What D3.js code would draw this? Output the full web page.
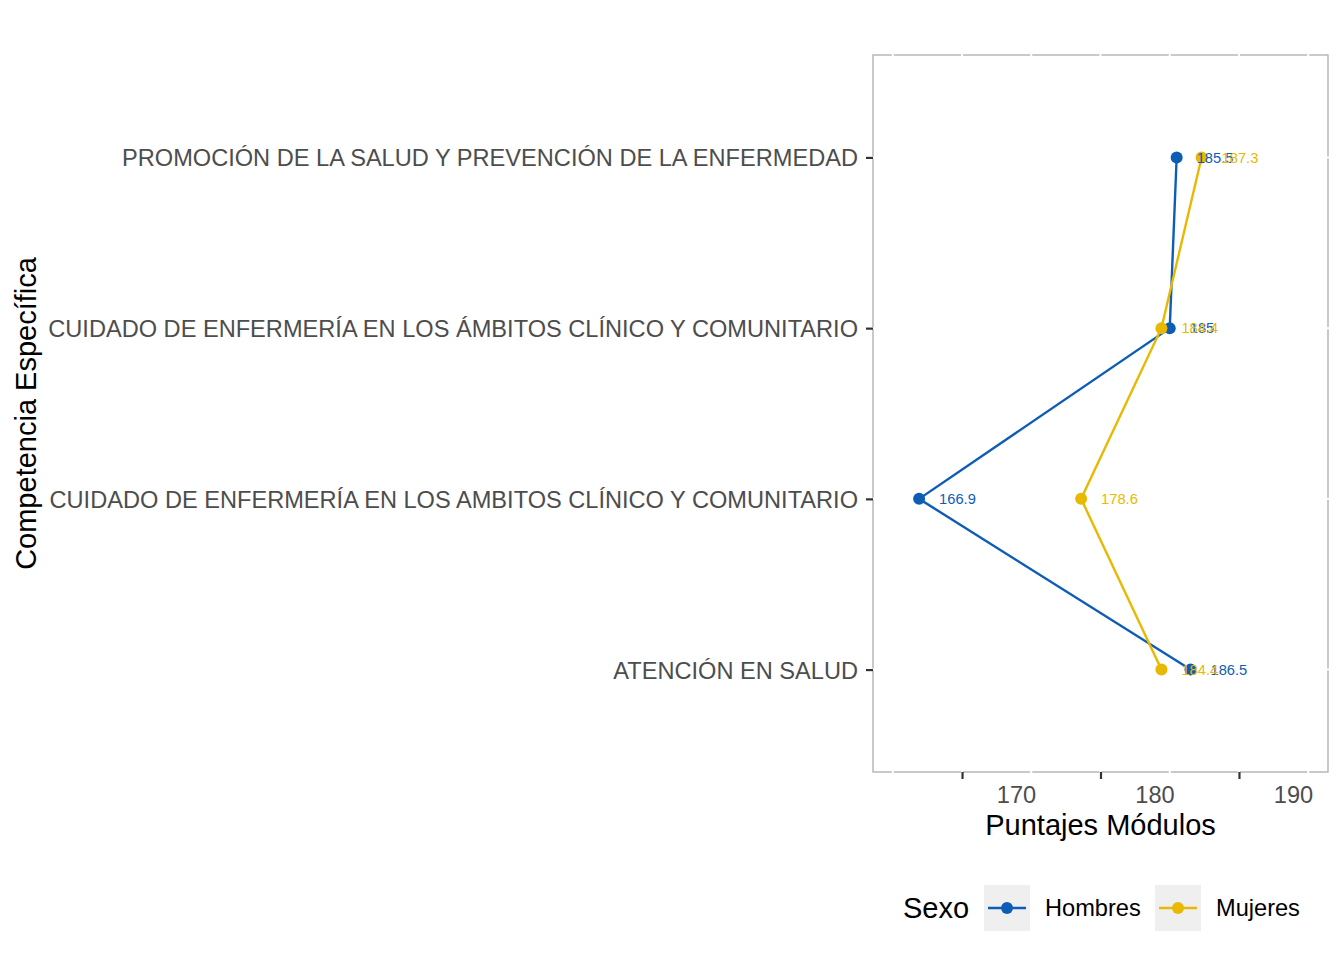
<!DOCTYPE html>
<html>
<head>
<meta charset="utf-8">
<script src="https://cdn.jsdelivr.net/npm/d3@7"></script>
<style>
  body { margin: 0; background: #fff; }
  svg { font-family: "Liberation Sans", Arial, sans-serif; }
</style>
</head>
<body>
<div id="chart"></div>
<script>
// data, bottom to top as drawn on the y axis
var categories = [
    "ATENCIÓN EN SALUD",
    "CUIDADO DE ENFERMERÍA EN LOS AMBITOS CLÍNICO Y COMUNITARIO",
    "CUIDADO DE ENFERMERÍA EN LOS ÁMBITOS CLÍNICO Y COMUNITARIO",
    "PROMOCIÓN DE LA SALUD Y PREVENCIÓN DE LA ENFERMEDAD"
];
var hombres = [186.5, 166.9, 185, 185.5];
var mujeres = [184.4, 178.6, 184.4, 187.3];
var seriesNames = ["Hombres", "Mujeres"];
var xTicks = [170, 180, 190];
var xMinor = [165, 175, 185, 195];

function init() {
    var w = 1344, h = 960;
    var left = 873, right = 1328, top = 55, bottom = 772;
    var colors = ["#0D5DB7", "#E9B800"];

    var svg = d3.select("#chart").append("svg")
        .attr("width", w)
        .attr("height", h);

    var xScale = d3.scaleLinear()
        .domain([163.57, 196.43])
        .range([left, right]);

    var yScale = d3.scalePoint()
        .domain(categories)
        .range([bottom, top])
        .padding(0.6);

    // panel border, then white grid lines over it
    svg.append("rect")
       .attr("x", left).attr("y", top)
       .attr("width", right - left).attr("height", bottom - top)
       .attr("fill", "white")
       .attr("stroke", "#B3B3B3")
       .attr("stroke-width", 1.4);

    svg.selectAll(".vgrid")
       .data(xTicks.concat(xMinor))
       .enter().append("line")
       .attr("x1", function(d) { return xScale(d); })
       .attr("x2", function(d) { return xScale(d); })
       .attr("y1", top - 1).attr("y2", bottom + 1)
       .attr("stroke", "white")
       .attr("stroke-width", 2);

    svg.selectAll(".hgrid")
       .data(categories)
       .enter().append("line")
       .attr("x1", left - 1).attr("x2", right + 1)
       .attr("y1", function(d) { return yScale(d); })
       .attr("y2", function(d) { return yScale(d); })
       .attr("stroke", "white")
       .attr("stroke-width", 2);

    // x axis
    var xAxis = svg.append("g")
        .attr("transform", "translate(0," + bottom + ")")
        .call(d3.axisBottom(xScale).tickValues(xTicks).tickSize(7).tickSizeOuter(0).tickPadding(5));
    xAxis.select(".domain").remove();
    xAxis.selectAll(".tick line").attr("stroke", "#333333").attr("stroke-width", 2.2);
    xAxis.selectAll(".tick text")
         .attr("x", 54)
         .attr("dy", "0.71em")
         .attr("y", 14)
         .attr("fill", "#4D4D4D")
         .style("font-size", "23.6px");

    // y axis
    var yAxis = svg.append("g")
        .attr("transform", "translate(" + left + ",0)")
        .call(d3.axisLeft(yScale).tickSize(7).tickSizeOuter(0).tickPadding(8));
    yAxis.select(".domain").remove();
    yAxis.selectAll(".tick line").attr("stroke", "#333333").attr("stroke-width", 2.2);
    yAxis.selectAll(".tick text")
         .attr("fill", "#4D4D4D")
         .attr("dy", "0.36em")
         .style("font-size", "23.6px");

    // axis titles
    svg.append("text")
       .attr("x", xScale(180))
       .attr("y", 835)
       .attr("text-anchor", "middle")
       .style("font-size", "29px")
       .text("Puntajes Módulos");

    svg.append("text")
       .attr("transform", "translate(36," + ((top + bottom) / 2) + ") rotate(-90)")
       .attr("text-anchor", "middle")
       .style("font-size", "29px")
       .text("Competencia Específica");

    // series
    var series = [hombres, mujeres];
    var line = d3.line()
        .x(function(d) { return xScale(d.v); })
        .y(function(d) { return yScale(d.c); });

    series.forEach(function(vals, s) {
        var pts = vals.map(function(v, i) { return { v: v, c: categories[i] }; });
        svg.append("path")
           .datum(pts)
           .attr("d", line)
           .attr("fill", "none")
           .attr("stroke", colors[s])
           .attr("stroke-width", 2.4);
        svg.selectAll(".pt" + s)
           .data(pts)
           .enter().append("circle")
           .attr("cx", function(d) { return xScale(d.v); })
           .attr("cy", function(d) { return yScale(d.c); })
           .attr("r", 6)
           .attr("fill", colors[s]);
    });

    // value labels (they overlap in the original too)
    series.forEach(function(vals, s) {
        var pts = vals.map(function(v, i) { return { v: v, c: categories[i] }; });
        svg.selectAll(".lab" + s)
           .data(pts)
           .enter().append("text")
           .attr("x", function(d) { return xScale(d.v) + 20; })
           .attr("y", function(d) { return yScale(d.c); })
           .attr("dy", "0.36em")
           .attr("fill", colors[s])
           .style("font-size", "14.7px")
           .text(function(d) { return d3.format("")(d.v); });
    });

    // legend
    var lg = svg.append("g");
    lg.append("text")
      .attr("x", 903).attr("y", 918)
      .style("font-size", "29px")
      .text("Sexo");
    var keyX = [984, 1155];
    seriesNames.forEach(function(name, s) {
        var k = lg.append("g").attr("transform", "translate(" + keyX[s] + ",885)");
        k.append("rect").attr("width", 46).attr("height", 46).attr("fill", "#EFEFEF");
        k.append("line")
         .attr("x1", 4).attr("x2", 42).attr("y1", 23).attr("y2", 23)
         .attr("stroke", colors[s]).attr("stroke-width", 2.4);
        k.append("circle").attr("cx", 23).attr("cy", 23).attr("r", 6).attr("fill", colors[s]);
        k.append("text")
         .attr("x", 61).attr("y", 23)
         .attr("dy", "0.36em")
         .style("font-size", "23.6px")
         .text(name);
    });
}

window.onload = init;
</script>
</body>
</html>
